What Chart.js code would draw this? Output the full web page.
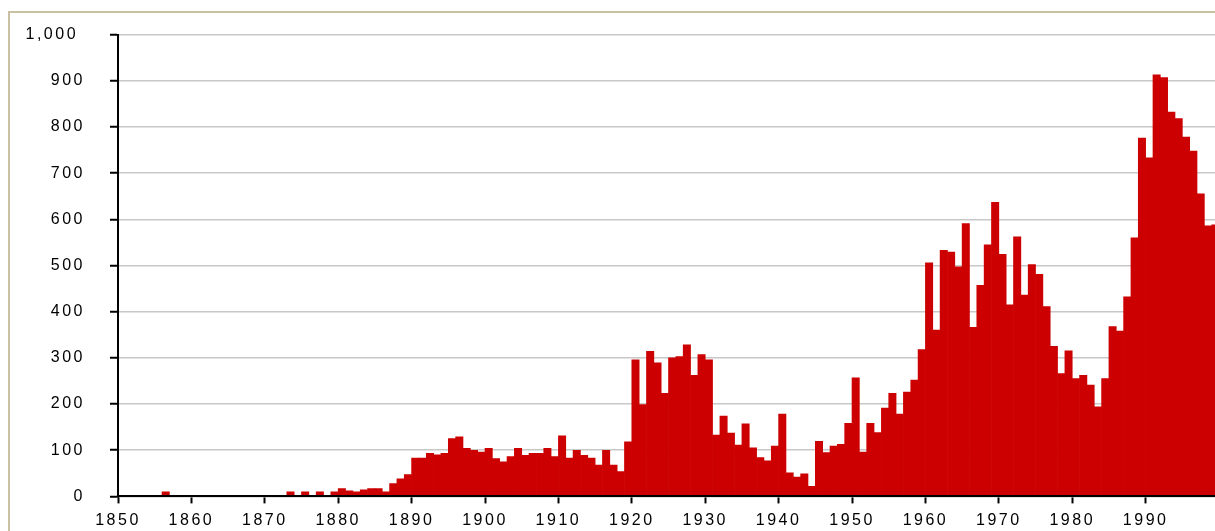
<!DOCTYPE html>
<html>
<head>
<meta charset="utf-8">
<script src="https://cdn.jsdelivr.net/npm/chart.js@4"></script>
<style>
    html, body { margin: 0; padding: 0; background: #fff; overflow: hidden; }
    #frame { position: absolute; left: 8px; top: 11px; width: 1300px; height: 600px; border: 2px solid #c9c1a1; }
    #wrap { position: absolute; left: 0; top: 0; width: 1215px; height: 531px; }
</style>
</head>
<body>
<div id="frame"></div>
<div id="wrap"><canvas id="chart" width="1215" height="531"></canvas></div>
<script>
    // one bar per year, starting 1850
    const startYear = 1850;
    const counts = [
        0, 0, 0, 0, 0, 0, 10, 0, 0, 0,                      // 1850s
        0, 0, 0, 0, 0, 0, 0, 0, 0, 0,                       // 1860s
        0, 0, 0, 10, 0, 10, 0, 10, 0, 10,                   // 1870s
        17, 12, 10, 14, 17, 17, 10, 28, 38, 47,             // 1880s
        83, 83, 93, 90, 93, 125, 129, 104, 100, 96,         // 1890s
        104, 82, 75, 86, 104, 89, 93, 93, 104, 86,          // 1900s
        131, 83, 100, 89, 83, 68, 100, 68, 54, 118,         // 1910s
        296, 199, 314, 289, 223, 300, 303, 328, 262, 307,   // 1920s
        296, 133, 174, 137, 111, 157, 105, 84, 77, 109,     // 1930s
        178, 51, 42, 49, 22, 119, 95, 109, 113, 158,        // 1940s
        257, 96, 158, 138, 191, 223, 178, 226, 252, 318,    // 1950s
        506, 360, 533, 529, 497, 591, 366, 457, 545, 637,   // 1960s
        524, 415, 562, 436, 502, 481, 411, 325, 266, 315,   // 1970s
        255, 262, 241, 194, 255, 368, 358, 432, 560, 776,   // 1980s
        733, 913, 907, 832, 818, 778, 748, 655, 586, 588    // 1990s
    ];
    const years = counts.map((_, i) => startYear + i);
    const xTicks = [1850, 1860, 1870, 1880, 1890, 1900, 1910, 1920, 1930, 1940, 1950, 1960, 1970, 1980, 1990];
    const yTicks = [0, 100, 200, 300, 400, 500, 600, 700, 800, 900, 1000];

    const labelFont = { family: 'Liberation Sans, Arial, sans-serif', size: 16 };

    // the old chart spreads its digits wide
    const spacing = {
        id: 'spacing',
        beforeDraw(chart) { chart.ctx.letterSpacing = '2.5px'; }
    };

    new Chart(document.getElementById('chart'), {
        type: 'bar',
        data: {
            datasets: [{
                data: years.map((y, i) => ({ x: y + 0.5, y: counts[i] })),
                backgroundColor: '#cc0000',
                borderWidth: 0,
                barPercentage: 1,
                categoryPercentage: 1
            }]
        },
        options: {
            responsive: false,
            animation: false,
            devicePixelRatio: 1,
            layout: { padding: { top: 32, right: 0, bottom: 0, left: 0 } },
            plugins: { legend: { display: false }, tooltip: { enabled: false } },
            scales: {
                x: {
                    type: 'linear',
                    min: 1850,
                    max: 1999.45,
                    offset: false,
                    afterBuildTicks: s => { s.ticks = xTicks.map(v => ({ value: v })); },
                    afterFit: s => { s.height = 34; },
                    grid: { offset: false, drawOnChartArea: false, drawTicks: true, tickLength: 7, tickWidth: 2, tickColor: '#000' },
                    border: { color: '#000', width: 2, z: 1 },
                    ticks: { color: '#000', font: labelFont, padding: 8, maxRotation: 0, autoSkip: false, callback: v => String(v) }
                },
                y: {
                    min: 0,
                    max: 1000,
                    afterBuildTicks: s => { s.ticks = yTicks.map(v => ({ value: v })); },
                    afterFit: s => { s.width = 118; },
                    grid: { color: '#c8c8c8', lineWidth: 1.5, tickColor: '#000', tickLength: 8, tickWidth: 2 },
                    border: { color: '#000', width: 2, z: 1 },
                    ticks: {
                        color: '#000', font: labelFont, padding: 25,
                        callback: v => v >= 1000 ? v.toLocaleString('en-US') + ' ' : v.toLocaleString('en-US')
                    }
                }
            }
        },
        plugins: [spacing]
    });
</script>
</body>
</html>
